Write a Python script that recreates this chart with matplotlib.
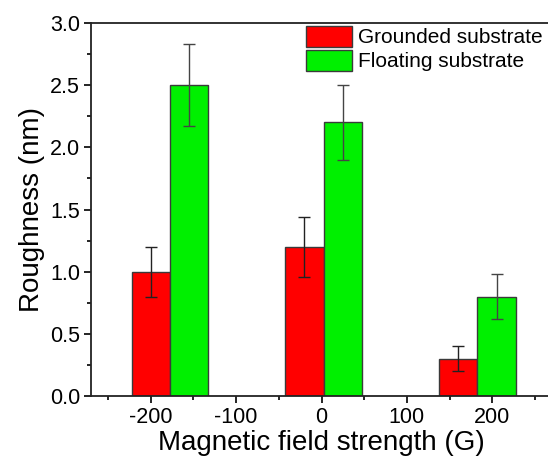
import matplotlib
matplotlib.use("Agg")
import matplotlib.pyplot as plt
from matplotlib.ticker import MultipleLocator

plt.rcParams['font.family'] = ['Liberation Sans', 'DejaVu Sans']

# data
field_red = [-200, -20, 160]
field_green = [-155, 25, 205]
grounded = [1.0, 1.2, 0.3]
grounded_err = [0.2, 0.24, 0.1]
floating = [2.5, 2.2, 0.8]
floating_err = [0.33, 0.3, 0.18]
labels = ["Grounded substrate", "Floating substrate"]

fig = plt.figure(figsize=(5.48, 4.61), dpi=100)
ax = fig.add_axes([91/548, 1-396/461, (552-91)/548, (396-23)/461])

w = 45
edge = '#3a3a3a'
ax.bar(field_red, grounded, width=w, color='#ff0000', edgecolor=edge, linewidth=1.0, label=labels[0], zorder=2)
ax.bar(field_green, floating, width=w, color='#00f000', edgecolor=edge, linewidth=1.0, label=labels[1], zorder=2)
ax.errorbar(field_red, grounded, yerr=grounded_err, fmt='none', ecolor='#222222', elinewidth=1.0, capsize=4, capthick=1.0, zorder=3)
ax.errorbar(field_green, floating, yerr=floating_err, fmt='none', ecolor='#444444', elinewidth=1.0, capsize=4, capthick=1.0, zorder=3)

ax.set_xlim(-270, 270)
ax.set_ylim(0, 3.0)
ax.xaxis.set_major_locator(MultipleLocator(100))
ax.xaxis.set_minor_locator(MultipleLocator(50))
ax.yaxis.set_major_locator(MultipleLocator(0.5))
ax.yaxis.set_minor_locator(MultipleLocator(0.25))
ax.set_yticks([0, 0.5, 1.0, 1.5, 2.0, 2.5, 3.0])
ax.set_yticklabels(['0.0', '0.5', '1.0', '1.5', '2.0', '2.5', '3.0'])
ax.set_xticks([-200, -100, 0, 100, 200])
ax.set_xticklabels(['-200', '-100', '0', '100', '200'])
ax.tick_params(which='major', direction='out', length=5, width=1.2, labelsize=15.5, colors='black', pad=3)
ax.tick_params(which='minor', direction='out', length=3, width=1.2)
for s in ax.spines.values():
    s.set_linewidth(1.3)
    s.set_color('#222222')

ax.set_xlabel('Magnetic field strength (G)', fontsize=20, labelpad=1)
ax.set_ylabel('Roughness (nm)', fontsize=20, labelpad=3)

leg = ax.legend(loc='upper left', bbox_to_anchor=(306/548, 1-26/461), bbox_transform=fig.transFigure,
                frameon=False, fontsize=15, borderpad=0, borderaxespad=0,
                handlelength=2.2, handleheight=1.15, labelspacing=0.12, handletextpad=0.3)

fig.savefig('out.png', dpi=100)
